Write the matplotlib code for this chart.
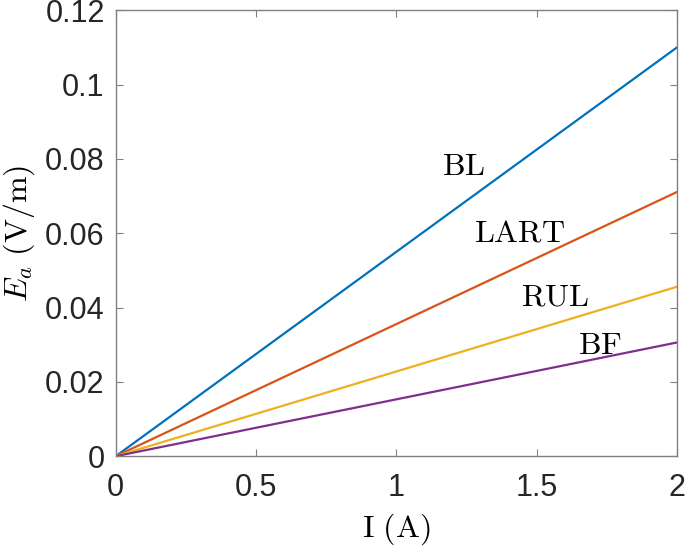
import numpy as np
import matplotlib
matplotlib.use('Agg')
import matplotlib.pyplot as plt

plt.rcParams['mathtext.fontset'] = 'cm'

# current in A
I = np.array([0.0, 2.0])
# electric field at 2 A, V/m
names = ['BL', 'LART', 'RUL', 'BF']
E_end = [0.110, 0.0711, 0.0456, 0.0306]
colors = ['#0072BD', '#D95319', '#EDB120', '#7E2F8E']
label_x = [1.24, 1.44, 1.565, 1.725]
label_y = [0.078, 0.060, 0.0428, 0.0297]

xticks = [0, 0.5, 1, 1.5, 2]
xticklabels = ['0', '0.5', '1', '1.5', '2']
yticks = [0, 0.02, 0.04, 0.06, 0.08, 0.1, 0.12]
yticklabels = ['0', '0.02', '0.04', '0.06', '0.08', '0.1', '0.12']

fig = plt.figure(figsize=(6.85, 5.47), dpi=100)
ax = fig.add_axes([0.169, 0.166, 0.819, 0.815])

for n, e, c in zip(names, E_end, colors):
	ax.plot(I, [0, e], color=c, lw=1.6)

for n, x, y in zip(names, label_x, label_y):
	ax.text(x, y, r'$\mathrm{' + n + '}$', fontsize=23, ha='center', va='center')

ax.set_xlim(0, 2)
ax.set_ylim(0, 0.12)
ax.set_xticks(xticks)
ax.set_xticklabels(xticklabels, fontfamily='Liberation Sans', fontsize=22, color='#262626')
ax.set_yticks(yticks)
ax.set_yticklabels(yticklabels, fontfamily='Liberation Sans', fontsize=22, color='#262626')
ax.tick_params(direction='in', top=True, right=True, length=5, width=0.8, color='#808080')
ax.tick_params(axis='x', pad=12)
ax.tick_params(axis='y', pad=8)
for s in ax.spines.values():
	s.set_color('#808080')
	s.set_linewidth(1.0)

ax.set_xlabel(r'$\mathrm{I\ (A)}$', fontsize=23, labelpad=6)
ax.set_ylabel(r'$E_a\ \mathrm{(V/m)}$', fontsize=23, labelpad=6)

plt.savefig('out.png', dpi=100)
